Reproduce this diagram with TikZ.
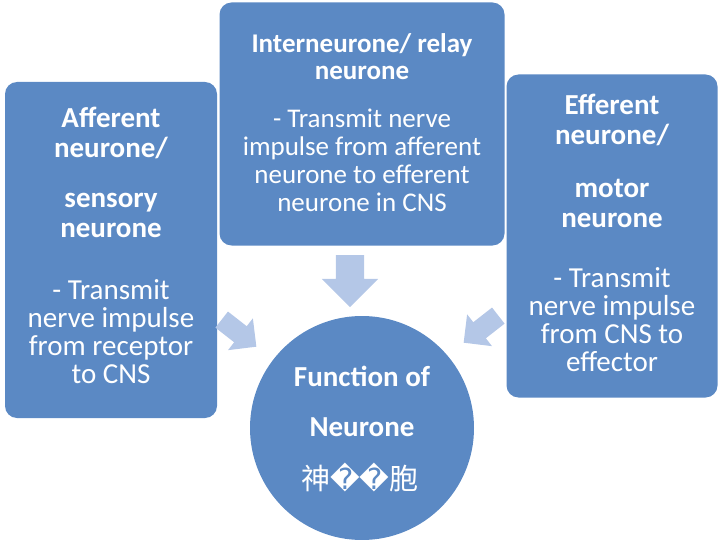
\documentclass[tikz,border=0pt]{standalone}
\usepackage{fontspec}
\setmainfont{Carlito}
\newfontfamily\cjk{Noto Sans CJK SC}
\newfontfamily\djv{DejaVu Sans}
\usetikzlibrary{shapes.arrows}
\definecolor{boxblue}{HTML}{5B89C4}
\definecolor{arrblue}{HTML}{B4C7E7}
\begin{document}
\begin{tikzpicture}[x=1pt,y=-1pt,
  box/.style={fill=boxblue,rounded corners=12pt,draw=none},
  txt/.style={text=white,align=center,font=\fontsize{29}{33}\selectfont},
  arr/.style={single arrow,fill=arrblue,draw=none}]
\useasboundingbox (0,0) rectangle (720,540);
\node[box,minimum width=212pt,minimum height=336pt] (L) at (111,250) {};
\node[box,minimum width=285pt,minimum height=243pt] (M) at (362,124) {};
\node[box,minimum width=211pt,minimum height=323pt] (R) at (612,236) {};
\node[circle,fill=boxblue,minimum size=224pt] (C) at (362,428) {};
\node[arr,rotate=-90,minimum height=52pt,inner sep=14pt,single arrow head extend=14pt] (a1) at (350,274) {};
\node[arr,rotate=-38,minimum height=44pt,inner sep=10pt,single arrow head extend=10pt] (a2) at (235,330) {};
\node[arr,rotate=218,minimum height=44pt,inner sep=10pt,single arrow head extend=10pt] (a3) at (485,326) {};
\node[txt] (lt1) at (111,133) {\bfseries Afferent\\[-3pt]\bfseries neurone/};
\node[txt] (lt2) at (111,215) {\bfseries sensory\\[-3pt]\bfseries neurone};
\node[txt] (lt3) at (111,332) {- Transmit\\[-5pt]nerve impulse\\[-5pt]from receptor\\[-5pt]to CNS};
\node[txt,font=\fontsize{27}{31}\selectfont] (mt1) at (362,57) {\bfseries Interneurone/ relay\\[-4pt]\bfseries neurone};
\node[txt,font=\fontsize{27}{31}\selectfont] (mt2) at (362,160) {- Transmit nerve\\[-3pt]impulse from afferent\\[-3pt]neurone to efferent\\[-3pt]neurone in CNS};
\node[txt] (rt1) at (612,120) {\bfseries Efferent\\[-3pt]\bfseries neurone/};
\node[txt] (rt2) at (612,203) {\bfseries motor\\[-3pt]\bfseries neurone};
\node[txt] (rt3) at (612,320) {- Transmit\\[-5pt]nerve impulse\\[-5pt]from CNS to\\[-5pt]effector};
\node[txt] (ct1) at (362,376) {\bfseries Function of};
\node[txt] (ct2) at (362,427) {\bfseries Neurone};
\node[txt] (ct3) at (360,477) {{\cjk 神}{\djv ��}{\cjk 胞}};
\end{tikzpicture}
\end{document}
